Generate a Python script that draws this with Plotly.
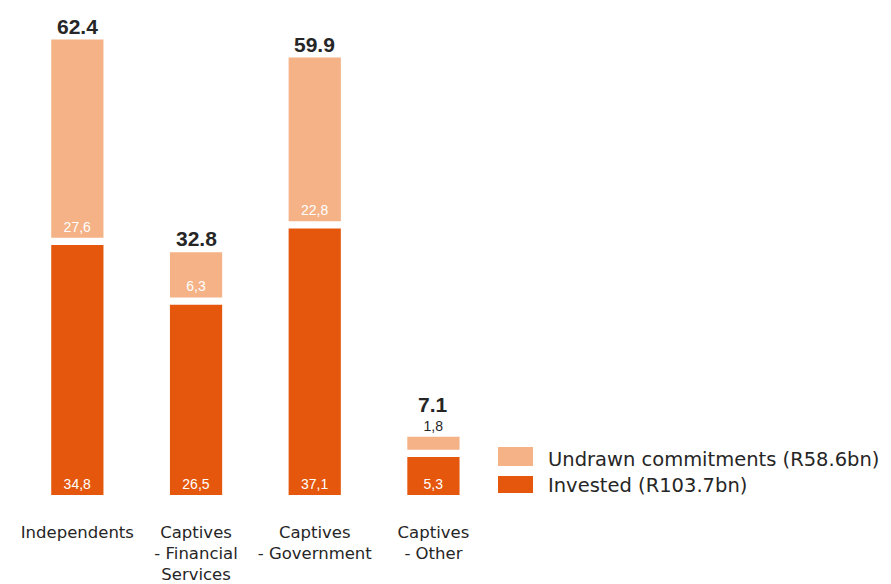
import plotly.graph_objects as go

# ---- data ----
categories = ["Independents", "Captives<br>- Financial<br>Services",
              "Captives<br>- Government", "Captives<br>- Other"]
invested = [34.8, 26.5, 37.1, 5.3]
undrawn = [27.6, 6.3, 22.8, 1.8]
legend_names = ["Undrawn commitments (R58.6bn)", "Invested (R103.7bn)"]

# ---- style ----
C_UNDRAWN = "#F4B286"
C_INVESTED = "#E4570D"
TXT = "#262626"
NARROW = "Liberation Sans Narrow, Liberation Sans, Arial, sans-serif"
REG = "DejaVu Sans, Arial, sans-serif"
GAP = 1.0          # visual white gap between stacked segments (data units)
BAR_W = 0.44

W, H = 891, 584
ML, MR, MT, MB = 18, 5, 8, 89
PW, PH = W - ML - MR, H - MT - MB
XR = [-0.5, 6.813]
YR = [0, 67.8]

def px_x(px):
    return (px - ML) / PW

def px_y(py):
    return (H - MB - py) / PH

x = list(range(len(categories)))
fmt_c = lambda v: f"{v:.1f}".replace(".", ",")

fig = go.Figure()
fig.add_trace(go.Bar(
    x=x, y=invested, width=BAR_W, marker=dict(color=C_INVESTED, line=dict(width=0)),
    text=[fmt_c(v) for v in invested], textposition="inside", insidetextanchor="start",
    textfont=dict(family=NARROW, size=14, color="white"), textangle=0,
    name=legend_names[1], hoverinfo="skip", showlegend=False, cliponaxis=False,
))
fig.add_trace(go.Bar(
    x=x, y=undrawn, base=[v + GAP for v in invested], width=BAR_W,
    marker=dict(color=C_UNDRAWN, line=dict(width=0)),
    text=[fmt_c(v) for v in undrawn],
    textposition=["inside", "inside", "inside", "outside"], insidetextanchor="start",
    textfont=dict(family=NARROW, size=14, color=["white", "white", "white", TXT]),
    textangle=0, name=legend_names[0], hoverinfo="skip", showlegend=False, cliponaxis=False,
))

annotations = []
yshifts = [0, 0, 0, 19]
for i, (a, b) in enumerate(zip(invested, undrawn)):
    annotations.append(dict(
        x=i, y=a + GAP + b, xref="x", yref="y", text=f"<b>{a + b:.1f}</b>",
        showarrow=False, yanchor="bottom", yshift=yshifts[i],
        font=dict(family=NARROW, size=21, color=TXT),
    ))

# custom legend
shapes = []
leg = [(legend_names[0], C_UNDRAWN, 447, 466, 459.5), (legend_names[1], C_INVESTED, 476, 493, 485.5)]
for name, col, y0, y1, ty in leg:
    shapes.append(dict(type="rect", xref="paper", yref="paper",
                       x0=px_x(498), x1=px_x(533), y0=px_y(y1), y1=px_y(y0),
                       fillcolor=col, line=dict(width=0)))
    annotations.append(dict(x=px_x(546), y=px_y(ty), xref="paper", yref="paper",
                            text=name, showarrow=False, xanchor="left", yanchor="middle",
                            font=dict(family=REG, size=19.5, color=TXT)))

fig.update_layout(
    width=W, height=H, margin=dict(l=ML, r=MR, t=MT, b=MB, autoexpand=False),
    paper_bgcolor="white", plot_bgcolor="white",
    barmode="overlay", showlegend=False,
    annotations=annotations, shapes=shapes,
    xaxis=dict(range=XR, tickvals=x, ticktext=categories, showgrid=False, zeroline=False,
               showline=False, ticks="", ticklabelstandoff=25, automargin=False,
               tickfont=dict(family=REG, size=16.5, color=TXT)),
    yaxis=dict(range=YR, visible=False, showgrid=False, zeroline=False, automargin=False),
)

fig.write_html("out.html", config={"displayModeBar": False},
               post_script="document.body.style.margin='0';")
